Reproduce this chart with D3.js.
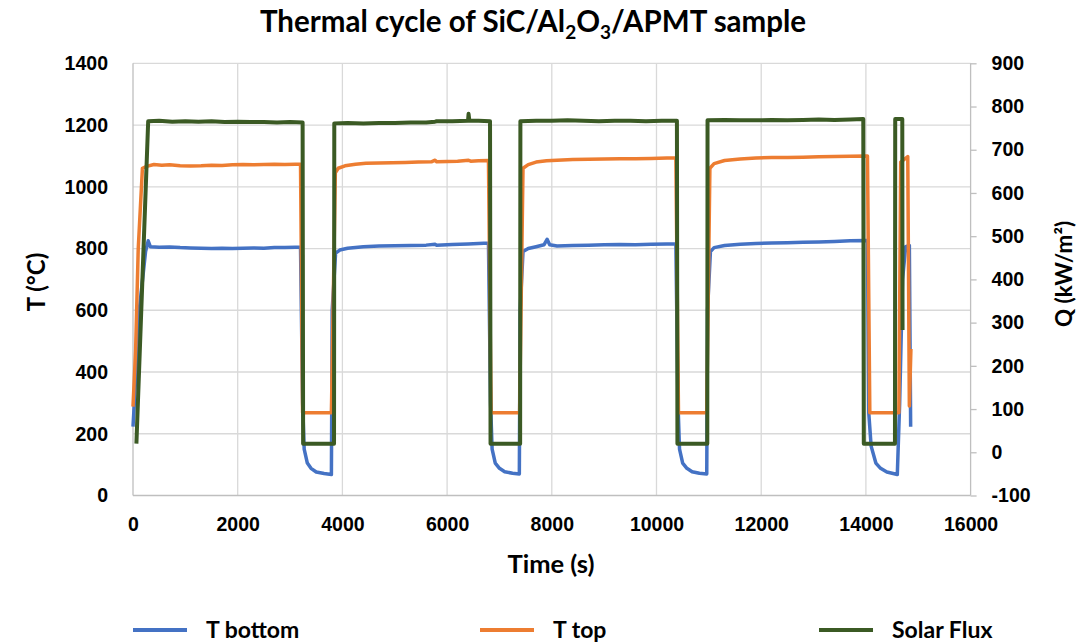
<!DOCTYPE html>
<html lang="en">
<head>
<meta charset="UTF-8">
<title>Thermal cycle of SiC/Al2O3/APMT sample</title>
<script src="https://cdn.jsdelivr.net/npm/d3@7"></script>
<style>
    body { margin: 0; background: #fff; }
    svg { font-family: Lato, "Open Sans", sans-serif; font-weight: 700; }
    .grid line { stroke: #d9d9d9; stroke-width: 1.3px; }
    .axis text { font-size: 19.5px; fill: #000; }
    .axis path, .axis line { stroke: #bfbfbf; stroke-width: 1.3px; }
    .series { fill: none; stroke-linejoin: round; stroke-linecap: butt; }
    .legend text { font-size: 23px; }
</style>
</head>
<body>
<div id="graphDiv"></div>
<script>
// axis ticks
const timeTicks = [0, 2000, 4000, 6000, 8000, 10000, 12000, 14000, 16000];
const tempTicks = [0, 200, 400, 600, 800, 1000, 1200, 1400];
const fluxTicks = [-100, 0, 100, 200, 300, 400, 500, 600, 700, 800, 900];

const seriesNames = ["T bottom", "T top", "Solar Flux"];

// [time (s), T (°C)]
const tBottom = [
    [0, 223], [20, 283], [120, 600], [240, 790], [290, 825], [330, 806], [500, 804], [700, 805],
    [900, 803], [1100, 802], [1300, 801], [1500, 800], [1700, 801], [1900, 800], [2100, 801],
    [2300, 802], [2500, 801], [2700, 803], [2900, 803], [3100, 804], [3200, 804],
    [3240, 300], [3270, 150], [3330, 105], [3400, 88], [3500, 76], [3650, 71], [3790, 68],
    [3805, 600], [3870, 785], [3950, 795], [4100, 801], [4400, 806], [4700, 808], [5000, 809],
    [5300, 810], [5600, 811], [5770, 814], [5800, 811], [6100, 813], [6400, 815], [6700, 817], [6790, 817],
    [6830, 300], [6860, 150], [6920, 105], [7000, 88], [7100, 77], [7250, 72], [7380, 70],
    [7395, 600], [7450, 790], [7550, 800], [7700, 806], [7850, 812], [7910, 830], [7960, 812],
    [8100, 808], [8400, 810], [8700, 811], [9000, 812], [9300, 813], [9600, 812], [9900, 814],
    [10200, 815], [10370, 815],
    [10410, 300], [10440, 150], [10500, 105], [10580, 88], [10680, 77], [10820, 72], [10960, 70],
    [10975, 600], [11030, 790], [11100, 803], [11300, 810], [11600, 814], [11900, 816], [12200, 818],
    [12500, 819], [12800, 820], [13100, 821], [13400, 823], [13700, 825], [14000, 826], [14030, 826],
    [14055, 267], [14100, 160], [14190, 105], [14280, 88], [14400, 76], [14600, 68],
    [14645, 300], [14700, 700], [14760, 806], [14830, 810], [14855, 223]
];

// [time (s), T (°C)]
const tTop = [
    [0, 288], [50, 470], [100, 800], [180, 1060], [260, 1066], [400, 1072], [550, 1070], [700, 1071],
    [900, 1068], [1100, 1067], [1300, 1068], [1500, 1070], [1700, 1069], [1900, 1071], [2100, 1072],
    [2300, 1071], [2500, 1072], [2700, 1073], [2900, 1072], [3100, 1073], [3200, 1073],
    [3240, 268], [3790, 268],
    [3865, 1045], [3920, 1060], [4050, 1068], [4250, 1073], [4450, 1076], [4700, 1077], [4950, 1078],
    [5200, 1079], [5450, 1080], [5700, 1081], [5770, 1086], [5800, 1081], [6000, 1082], [6200, 1083],
    [6410, 1086], [6450, 1083], [6600, 1084], [6790, 1085],
    [6840, 268], [7385, 268],
    [7450, 1060], [7550, 1072], [7700, 1080], [7900, 1084], [8100, 1086], [8400, 1088], [8700, 1089],
    [9000, 1090], [9300, 1091], [9600, 1091], [9900, 1092], [10200, 1093], [10370, 1093],
    [10420, 268], [10960, 268],
    [11020, 1060], [11100, 1075], [11300, 1085], [11600, 1090], [11900, 1093], [12200, 1095],
    [12500, 1095], [12800, 1096], [13100, 1097], [13400, 1098], [13700, 1099], [14000, 1100], [14030, 1100],
    [14075, 268], [14630, 268],
    [14665, 1080], [14800, 1098], [14830, 290], [14860, 475]
];

// [time (s), Q (kW/m2)]
const solarFlux = [
    [65, 20], [290, 766], [500, 767], [750, 765], [1000, 766], [1250, 765], [1500, 766], [1750, 764],
    [2000, 765], [2250, 764], [2500, 764], [2750, 763], [3000, 764], [3240, 763],
    [3250, 20], [3840, 20],
    [3845, 761], [4100, 762], [4400, 761], [4700, 762], [5000, 762], [5300, 763], [5600, 763],
    [5770, 765], [5800, 766], [6100, 766], [6400, 767], [6410, 783], [6425, 767], [6600, 767], [6820, 766],
    [6830, 20], [7395, 20],
    [7400, 766], [7700, 767], [8000, 767], [8300, 768], [8600, 767], [8900, 766], [9200, 767],
    [9500, 767], [9800, 766], [10100, 767], [10390, 767],
    [10400, 20], [10970, 20],
    [10975, 768], [11300, 769], [11600, 768], [11900, 768], [12200, 769], [12500, 768], [12800, 769],
    [13100, 770], [13400, 769], [13700, 770], [13950, 771],
    [13960, 20], [14555, 20],
    [14560, 771], [14695, 771], [14700, 283]
];

const colors = ["#4472c4", "#ed7d31", "#3b5a24"];

const width = 1081;
const height = 642;
const plot = {left: 133, right: 970.6, top: 63.3, bottom: 495.5};

const svg = d3.select("#graphDiv").append("svg")
    .attr("width", width)
    .attr("height", height);

const x = d3.scaleLinear().domain([0, 16000]).range([plot.left, plot.right]);
const yT = d3.scaleLinear().domain([0, 1400]).range([plot.bottom, plot.top]);
const yQ = d3.scaleLinear().domain([-100, 900]).range([plot.bottom, plot.top]);

const plain = d => String(d);

// gridlines
const grid = svg.append("g").attr("class", "grid");
grid.selectAll(".h").data(tempTicks.filter(d => d > 0)).join("line")
    .attr("x1", plot.left).attr("x2", plot.right)
    .attr("y1", d => yT(d)).attr("y2", d => yT(d));
grid.selectAll(".v").data(timeTicks.filter(d => d > 0 && d < 16000)).join("line")
    .attr("x1", d => x(d)).attr("x2", d => x(d))
    .attr("y1", plot.top).attr("y2", plot.bottom);

// left axis
const leftAxis = svg.append("g").attr("class", "axis")
    .attr("transform", `translate(${plot.left},0)`)
    .call(d3.axisLeft(yT).tickValues(tempTicks).tickSize(0).tickPadding(25).tickFormat(plain));
leftAxis.select(".domain").attr("d", `M0,${plot.top}V${plot.bottom}`);

// bottom axis
const bottomAxis = svg.append("g").attr("class", "axis")
    .attr("transform", `translate(0,${plot.bottom})`)
    .call(d3.axisBottom(x).tickValues(timeTicks).tickSize(0).tickPadding(22).tickFormat(plain));
bottomAxis.select(".domain").attr("d", `M${plot.left},0H${plot.right}`);

// right axis
const rightAxis = svg.append("g").attr("class", "axis")
    .attr("transform", `translate(${plot.right},0)`)
    .call(d3.axisRight(yQ).tickValues(fluxTicks).tickSize(6).tickPadding(14).tickFormat(plain));
rightAxis.select(".domain").attr("d", `M0,${plot.top}V${plot.bottom}`);
rightAxis.selectAll("text").attr("x", 21);

// series
const line = yScale => d3.line().x(d => x(d[0])).y(d => yScale(d[1]));
svg.append("path").datum(tBottom).attr("class", "series")
    .attr("stroke", colors[0]).attr("stroke-width", 3.5).attr("d", line(yT));
svg.append("path").datum(tTop).attr("class", "series")
    .attr("stroke", colors[1]).attr("stroke-width", 3.5).attr("d", line(yT));
svg.append("path").datum(solarFlux).attr("class", "series")
    .attr("stroke", colors[2]).attr("stroke-width", 4).attr("d", line(yQ));

// title
const title = svg.append("text")
    .attr("x", 533)
    .attr("y", 32)
    .attr("text-anchor", "middle")
    .style("font-size", "29.5px");
title.append("tspan").text("Thermal cycle of SiC/Al");
title.append("tspan").attr("dy", 7).style("font-size", "19px").text("2");
title.append("tspan").attr("dy", -7).text("O");
title.append("tspan").attr("dy", 7).style("font-size", "19px").text("3");
title.append("tspan").attr("dy", -7).text("/APMT sample");

// axis titles
svg.append("text")
    .attr("x", 551).attr("y", 573)
    .attr("text-anchor", "middle")
    .style("font-size", "25.5px")
    .text("Time (s)");

svg.append("text")
    .attr("transform", "translate(45,282)rotate(-90)")
    .attr("text-anchor", "middle")
    .style("font-size", "24px")
    .text("T (°C)");

svg.append("text")
    .attr("transform", "translate(1072,274)rotate(-90)")
    .attr("text-anchor", "middle")
    .style("font-size", "22.5px")
    .text("Q (kW/m²)");

// legend
const legendX = [133, 480, 819];
const legend = svg.append("g").attr("class", "legend");
seriesNames.forEach((name, i) => {
    const row = legend.append("g").attr("transform", `translate(${legendX[i]},630)`);
    row.append("line")
        .attr("x1", 0).attr("x2", 54)
        .attr("stroke", colors[i]).attr("stroke-width", 3.8);
    row.append("text")
        .attr("x", 73).attr("y", 8)
        .text(name);
});
</script>
</body>
</html>
